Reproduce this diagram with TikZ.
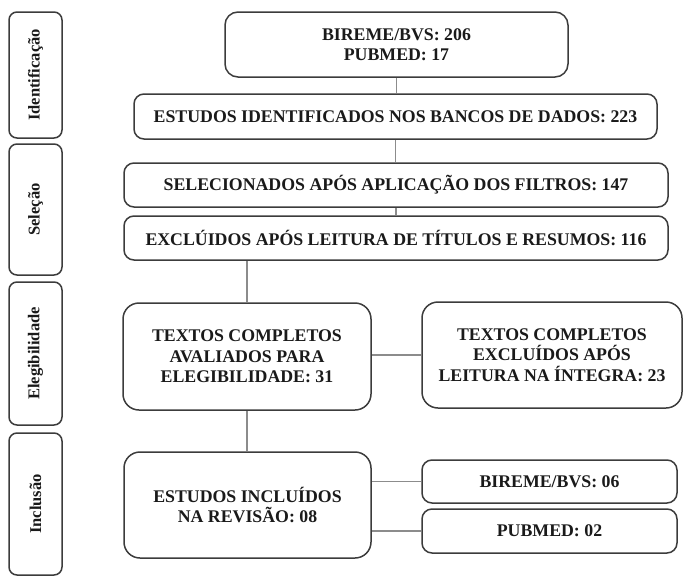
\documentclass[tikz,border=0pt]{standalone}
\usepackage{fontspec}
\setmainfont{Liberation Serif}
\usetikzlibrary{calc}
\definecolor{Borda}{HTML}{3C3C3C}
\definecolor{Linha}{HTML}{8C8C8C}
\definecolor{Texto}{HTML}{1A1A1A}

\begin{document}
\begin{tikzpicture}[x=1pt,y=-1pt,line join=round,
    etapa/.style={draw=Borda,line width=1.5pt,rounded corners=8pt,
      rotate=90,minimum height=53pt,inner sep=0pt,text=Texto,
      font=\fontsize{16.5}{19}\selectfont\bfseries},
    caixa/.style={draw=Borda,line width=1.5pt,rounded corners=10pt,
      align=center,inner sep=0pt,text=Texto,
      font=\fontsize{17.8}{20.5}\selectfont\bfseries},
    grande/.style={caixa,rounded corners=16pt},
    ligacao/.style={draw=Linha,line width=1.3pt}]
  \useasboundingbox (0,0) rectangle (683,576);

  % fases
  \node[etapa,minimum width=126pt] (fid) at (35.5,75) {Identificação};
  \node[etapa,minimum width=131pt] (fsel) at (35.5,209.5) {Seleção};
  \node[etapa,minimum width=143pt] (fele) at (35.5,353.5) {Elegibilidade};
  \node[etapa,minimum width=142pt] (finc) at (35.5,504) {Inclusão};

  % caixas do fluxo
  \node[caixa,rounded corners=13pt,minimum width=343pt,minimum height=65pt]
    (bases) at (396.5,44.5) {BIREME/BVS: 206\\PUBMED: 17};
  \node[caixa,minimum width=523pt,minimum height=45pt]
    (ident) at (395.5,116.5) {ESTUDOS IDENTIFICADOS NOS BANCOS DE DADOS: 223};
  \node[caixa,minimum width=544pt,minimum height=44pt]
    (selec) at (396,185) {SELECIONADOS APÓS APLICAÇÃO DOS FILTROS: 147};
  \node[caixa,minimum width=544pt,minimum height=44pt]
    (excl) at (396,238) {EXCLÚIDOS APÓS LEITURA DE TÍTULOS E RESUMOS: 116};
  \node[grande,minimum width=248pt,minimum height=107pt]
    (aval) at (247,356.5) {TEXTOS COMPLETOS\\AVALIADOS PARA\\ELEGIBILIDADE: 31};
  \node[grande,minimum width=260pt,minimum height=106pt]
    (exint) at (552,355) {TEXTOS COMPLETOS\\EXCLUÍDOS APÓS\\LEITURA NA ÍNTEGRA: 23};
  \node[grande,minimum width=247pt,minimum height=106pt]
    (incl) at (247.5,505) {ESTUDOS INCLUÍDOS\\NA REVISÃO: 08};
  \node[caixa,minimum width=255pt,minimum height=43pt]
    (bvs) at (549.5,481.5) {BIREME/BVS: 06};
  \node[caixa,minimum width=255pt,minimum height=44pt]
    (pub) at (549.5,531) {PUBMED: 02};

  % ligacoes
  \draw[ligacao] (bases.south) -- (bases.south |- ident.north);
  \draw[ligacao] (ident.south) -- (ident.south |- selec.north);
  \draw[ligacao] (selec.south) -- (selec.south |- excl.north);
  \draw[ligacao] (aval.north |- excl.south) -- (aval.north);
  \draw[ligacao] (exint.west -| aval.east) -- (exint.west);
  \draw[ligacao] (aval.south) -- (aval.south |- incl.north);
  \draw[ligacao] (bvs.west -| incl.east) -- (bvs.west);
  \draw[ligacao] (pub.west -| incl.east) -- (pub.west);
\end{tikzpicture}
\end{document}
